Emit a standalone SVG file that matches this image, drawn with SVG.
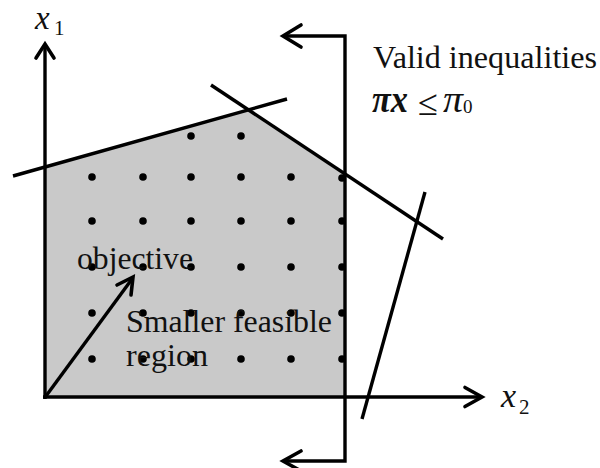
<svg xmlns="http://www.w3.org/2000/svg" width="600" height="468" viewBox="0 0 600 468">
<style>
.ln{stroke:#000;stroke-width:3.4;fill:none;stroke-linecap:butt}
.ah{stroke:#000;stroke-width:3.6;fill:none;stroke-linecap:round;stroke-linejoin:miter}
.t{font-family:"Liberation Serif","Times New Roman",serif;fill:#111}
.d{fill:#000}
</style>
<rect width="600" height="468" fill="#fff"/>
<g id="region">
<polygon points="45,167 248.5,110 345,174 345,397 45,397" fill="#c9c9c9"/>
</g>
<g id="dots" class="d">
<circle cx="191" cy="136" r="3.8"/><circle cx="241" cy="136" r="3.8"/>
<circle cx="92" cy="177" r="3.8"/><circle cx="143" cy="177" r="3.8"/><circle cx="191" cy="177" r="3.8"/><circle cx="241" cy="177" r="3.8"/><circle cx="291" cy="177" r="3.8"/><circle cx="342" cy="178" r="3.8"/>
<circle cx="92" cy="221" r="3.8"/><circle cx="143" cy="221" r="3.8"/><circle cx="191" cy="221" r="3.8"/><circle cx="241" cy="221" r="3.8"/><circle cx="291" cy="221" r="3.8"/><circle cx="342" cy="221" r="3.8"/>
<circle cx="92" cy="267" r="3.8"/><circle cx="143" cy="267" r="3.8"/><circle cx="191" cy="267" r="3.8"/><circle cx="241" cy="267" r="3.8"/><circle cx="291" cy="267" r="3.8"/><circle cx="342" cy="267" r="3.8"/>
<circle cx="92" cy="313" r="3.8"/><circle cx="143" cy="313" r="3.8"/><circle cx="191" cy="313" r="3.8"/><circle cx="241" cy="313" r="3.8"/><circle cx="291" cy="313" r="3.8"/><circle cx="342" cy="313" r="3.8"/>
<circle cx="92" cy="359" r="3.8"/><circle cx="143" cy="359" r="3.8"/><circle cx="191" cy="359" r="3.8"/><circle cx="241" cy="359" r="3.8"/><circle cx="291" cy="359" r="3.8"/><circle cx="342" cy="359" r="3.8"/>
</g>
<g id="connectors">
<g id="axis-x1">
<line class="ln" x1="45" y1="399" x2="45" y2="44" stroke-width="3.8"/>
<polyline class="ah" points="36,58 45,44 54,58"/>
</g>
<g id="axis-x2">
<line class="ln" x1="43" y1="397" x2="482" y2="397" stroke-width="3.8"/>
<polyline class="ah" points="465,387.5 482,397 465,406.5"/>
</g>
<g id="cuts">
<line class="ln" x1="13" y1="176" x2="287" y2="99"/>
<line class="ln" x1="211" y1="85" x2="443" y2="239"/>
<line class="ln" x1="425" y1="192" x2="362" y2="419"/>
</g>
<g id="bracket">
<polyline class="ln" points="283,36 345,36 345,461 283,461"/>
<polyline class="ah" points="301,25 283,36 301,47"/>
<polyline class="ah" points="301,451 283,461 301,471"/>
</g>
<g id="objective-arrow">
<line class="ln" x1="46" y1="396" x2="132" y2="279"/>
<polyline class="ah" points="117,285 133,277 131,295"/>
</g>
</g>
<g id="labels">
<text class="t" x="35" y="29" font-size="33" font-style="italic">x</text>
<text class="t" x="54" y="35" font-size="21">1</text>
<text class="t" x="501" y="407" font-size="34" font-style="italic">x</text>
<text class="t" x="519" y="414" font-size="21">2</text>
<text class="t" x="373" y="68" font-size="32" textLength="224" lengthAdjust="spacingAndGlyphs">Valid inequalities</text>
<text class="t" x="372" y="112" font-size="38" font-style="italic" font-weight="bold" textLength="36" lengthAdjust="spacingAndGlyphs">πx</text>
<text class="t" x="418" y="115" font-size="36" textLength="20" lengthAdjust="spacingAndGlyphs">≤</text>
<text class="t" x="443" y="112" font-size="38" font-style="italic" textLength="20" lengthAdjust="spacingAndGlyphs">π</text>
<text class="t" x="463" y="113" font-size="19">0</text>
<text class="t" x="77" y="269" font-size="31" textLength="116" lengthAdjust="spacingAndGlyphs">objective</text>
<text class="t" x="126" y="332" font-size="31" textLength="206" lengthAdjust="spacingAndGlyphs">Smaller feasible</text>
<text class="t" x="126" y="366" font-size="31" textLength="82" lengthAdjust="spacingAndGlyphs">region</text>
</g>
</svg>
